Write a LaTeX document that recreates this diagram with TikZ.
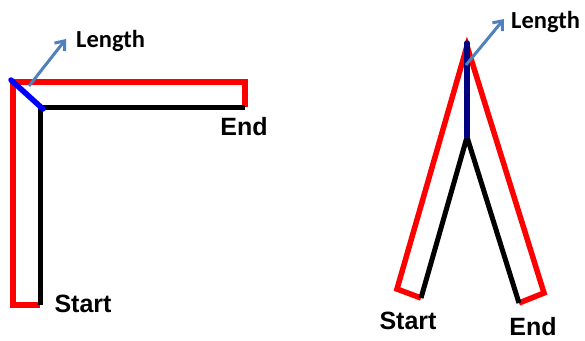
\documentclass[tikz,border=0pt]{standalone}
\usepackage{fontspec}
\setmainfont{Liberation Sans}
\newfontfamily\calfont{Carlito}
\usetikzlibrary{arrows.meta}
\definecolor{armred}{RGB}{255,0,0}
\definecolor{segblue}{RGB}{0,0,255}
\definecolor{segnavy}{RGB}{0,0,128}
\definecolor{arrblue}{RGB}{79,129,189}
\tikzset{
  outline/.style={draw=armred, line width=5.5pt, line join=miter},
  bone/.style={draw=black, line width=5pt, line join=round},
  lenseg/.style={line width=5.5pt, line cap=round},
  lenarrow/.style={draw=arrblue, line width=3pt, -{Straight Barb[length=8pt,width=13pt,line width=3pt]}},
  lbl/.style={font=\bfseries\fontsize{25}{25}\selectfont, inner sep=0pt, text=black},
  lenlbl/.style={font=\calfont\bfseries\fontsize{24.5}{24.5}\selectfont, inner sep=0pt, text=black}
}
\begin{document}
\begin{tikzpicture}[x=1pt,y=-1pt]
\useasboundingbox (0,0) rectangle (585,340);
% ---------- left figure ----------
\coordinate (LredS) at (40,305);
\coordinate (LredBL) at (13,305);
\coordinate (LredTL) at (13,82);
\coordinate (LredTR) at (245,82);
\coordinate (LredE) at (245,107);
\coordinate (LblkS) at (40,305);
\coordinate (LblkC) at (40,107);
\coordinate (LblkE) at (245,107);
\coordinate (LsegA) at (11,80);
\coordinate (LsegB) at (43,109);
\coordinate (LarrA) at (29,86);
\coordinate (LarrB) at (66,39);
\draw[outline] (LredS) -- (LredBL) -- (LredTL) -- (LredTR) -- (LredE);
\draw[bone] (LblkS) -- (LblkC) -- (LblkE);
\draw[lenseg, segblue] (LsegA) -- (LsegB);
\draw[lenarrow] (LarrA) -- (LarrB);
\node[lenlbl, anchor=west] (Llen) at (76,41) {Length};
\node[lbl] (Lend) at (244,127) {End};
\node[lbl] (Lstart) at (83,304) {Start};
% ---------- right figure ----------
\coordinate (RredSL) at (421,298);
\coordinate (RredBL) at (397,289);
\coordinate (RredTop) at (467,46);
\coordinate (RredBR) at (544,293);
\coordinate (RredER) at (519,303);
\coordinate (RblkS) at (421,298);
\coordinate (RblkC) at (467,137);
\coordinate (RblkE) at (519,303);
\coordinate (RsegA) at (467,43);
\coordinate (RsegB) at (467,136);
\coordinate (RarrA) at (466,65);
\coordinate (RarrB) at (504,19);
\draw[outline] (RredSL) -- (RredBL) -- (RredTop) -- (RredBR) -- (RredER);
\draw[bone] (RblkS) -- (RblkC) -- (RblkE);
\draw[lenseg, segnavy] (RsegA) -- (RsegB);
\draw[lenarrow] (RarrA) -- (RarrB);
\node[lenlbl, anchor=west] (Rlen) at (511,22) {Length};
\node[lbl] (Rstart) at (408,321) {Start};
\node[lbl] (Rend) at (533,327) {End};
\end{tikzpicture}
\end{document}
